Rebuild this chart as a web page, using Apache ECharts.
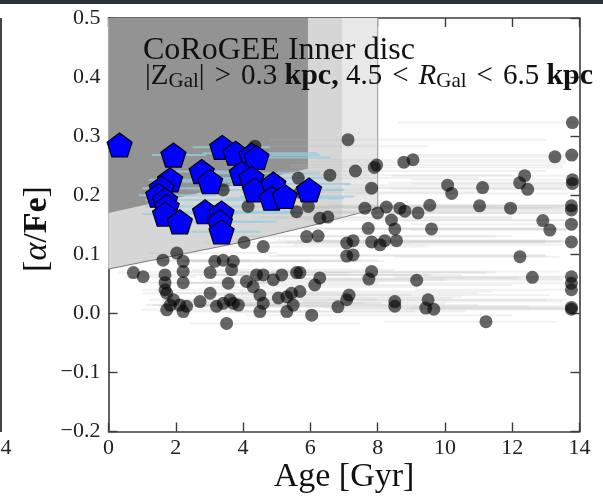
<!DOCTYPE html>
<html><head><meta charset="utf-8">
<script src="https://cdn.jsdelivr.net/npm/echarts@6/dist/echarts.min.js"></script>
<style>html,body{margin:0;padding:0;background:#fff}#c{width:603px;height:496px}</style>
</head><body><div id="c"></div>
<script>
// ---- data ----
const xTicks = [0, 2, 4, 6, 8, 10, 12, 14];
const yTicks = [-0.2, -0.1, 0.0, 0.1, 0.2, 0.3, 0.4, 0.5];
// selection boundary curve (lower edge of shaded zone)
const selCurveAge = [0, 2, 4, 6, 7, 8];
const selCurveAFe = [0.075, 0.098, 0.121, 0.148, 0.163, 0.178];
// lower edge of the dark zone
const darkEdgeAge = [0, 5.93];
const darkEdgeAFe = [0.17, 0.245];
// right edges of dark / medium / light zones
const zoneEdges = [5.93, 6.94, 8.0];
// grey stars: [age, [a/Fe], ageLow, ageHigh]
const greyStars = [
[0.74,0.069,0.3,1.8],[1.03,0.062,0.5,2.6],[1.62,0.090,1.0,4.2],[1.68,0.065,1.0,4.6],
[1.68,0.052,1.1,5.0],[1.68,0.040,1.0,4.1],[1.73,0.034,1.0,4.3],[2.03,0.102,1.2,5.0],
[2.22,0.088,1.4,6.0],[2.22,0.071,1.5,5.5],[2.22,0.052,1.5,5.0],[1.73,0.006,1.0,4.0],
[1.83,0.014,1.1,5.0],[2.12,0.014,1.3,5.5],[2.22,0.003,1.5,6.0],[2.32,0.012,1.5,5.6],
[1.93,0.023,1.2,5.0],[2.72,0.020,1.8,6.5],[3.02,0.034,2.0,7.0],[3.02,0.069,2.0,7.2],
[3.16,0.088,2.2,7.5],[3.41,0.090,2.3,8.0],[3.71,0.088,2.5,8.2],[3.66,0.074,2.5,8.5],
[3.56,0.051,2.4,8.0],[3.21,0.012,2.2,7.0],[3.41,0.017,2.3,7.6],[3.61,0.023,2.5,8.0],
[3.71,0.017,2.5,8.1],[3.86,0.014,2.6,8.5],[3.51,-0.017,2.4,7.5],[4.10,0.054,2.8,9.0],
[4.30,0.045,3.0,9.2],[4.40,0.065,3.0,9.5],[4.60,0.065,3.1,9.6],[4.50,0.031,3.0,9.0],
[4.60,0.017,3.1,10.0],[4.50,0.003,3.0,9.1],[4.90,0.057,3.3,10.0],[5.15,0.065,3.5,10.5],
[5.05,0.026,3.4,10.2],[5.30,0.028,3.6,10.5],[5.44,0.034,3.7,11.0],[5.30,0.003,3.6,10.6],
[5.49,0.014,3.7,11.0],[5.59,0.069,3.8,11.2],[5.69,0.069,3.9,11.5],[5.69,0.037,3.9,11.4],
[6.13,0.048,4.2,12.0],[6.28,0.060,4.3,12.2],[6.04,-0.003,4.1,12.0],[6.82,0.011,4.6,12.5],
[7.08,0.023,4.8,13.0],[7.15,0.031,4.9,13.1],[7.74,0.058,5.3,13.5],[7.82,0.071,5.3,13.4],
[8.51,0.020,5.8,13.5],[8.51,0.012,5.8,13.6],[9.16,0.056,6.3,13.5],[9.50,0.023,6.5,13.6],
[9.43,0.009,6.4,13.5],[9.67,0.007,6.6,13.7],[11.22,-0.014,8.2,13.3],[12.60,0.061,8.5,13.8],
[13.76,0.062,9.0,14.0],[13.76,0.051,9.2,14.0],[13.76,0.040,9.1,14.0],[13.76,0.010,9.0,14.0],
[13.76,0.007,8.8,14.0],[7.08,0.097,4.8,13.0],[12.23,0.096,8.5,13.4],[4.03,0.120,2.8,9.0],
[4.60,0.113,3.1,9.5],[7.08,0.119,4.8,13.0],[7.27,0.099,5.0,13.0],[3.41,0.209,2.3,8.0],
[4.15,0.181,2.8,9.0],[4.35,0.283,3.0,9.5],[5.64,0.229,3.8,11.0],[5.70,0.205,3.9,11.2],
[5.59,0.172,3.8,11.0],[5.94,0.181,4.0,11.5],[6.58,0.234,4.5,12.0],[7.12,0.294,4.8,13.0],
[7.34,0.241,5.0,13.0],[7.97,0.251,5.4,13.5],[7.90,0.247,5.4,13.5],[7.82,0.212,5.3,13.5],
[6.28,0.161,4.3,12.0],[6.52,0.163,4.5,12.0],[5.89,0.130,4.0,11.5],[6.23,0.131,4.2,12.0],
[7.62,0.178,5.2,13.2],[7.72,0.144,5.2,13.3],[7.82,0.121,5.3,13.4],[8.00,0.170,5.4,13.5],
[8.26,0.180,5.6,13.5],[8.66,0.178,5.9,13.6],[8.81,0.173,6.0,13.6],[9.20,0.170,6.3,13.6],
[9.55,0.183,6.5,13.7],[11.03,0.182,7.5,13.8],[11.95,0.178,8.2,13.9],[13.76,0.182,9.0,14.0],
[13.76,0.175,9.0,14.0],[13.76,0.151,9.0,14.0],[12.91,0.157,8.8,13.9],[13.12,0.141,9.0,13.9],
[13.76,0.121,9.0,14.0],[9.60,0.143,6.5,13.7],[8.41,0.158,5.8,13.6],[8.51,0.143,5.8,13.6],
[7.27,0.123,5.0,13.0],[8.21,0.123,5.6,13.5],[8.56,0.123,5.8,13.6],[8.07,0.116,5.5,13.5],
[8.78,0.256,6.0,13.6],[9.05,0.260,6.2,13.6],[13.79,0.323,8.6,14.0],[13.77,0.268,9.0,14.0],
[13.27,0.265,9.0,14.0],[13.79,0.226,9.0,14.0],[13.79,0.220,9.0,14.0],[10.08,0.217,7.0,13.8],
[10.20,0.203,7.0,13.8],[11.12,0.213,7.6,13.8],[12.37,0.233,8.4,13.9],[12.22,0.221,8.3,13.9],
[12.46,0.210,8.4,13.9]
];
// blue (selected) stars: [age, [a/Fe], ageLow, ageHigh]
const blueStars = [
[0.33,0.285,0.2,0.5],[1.93,0.268,1.3,2.9],[3.38,0.281,2.5,4.8],[3.78,0.271,2.8,6.2],
[4.25,0.268,3.2,6.3],[4.40,0.264,3.3,6.6],[2.77,0.240,2.0,4.5],[3.02,0.223,2.2,5.0],
[3.96,0.237,2.9,6.3],[4.25,0.229,3.1,6.5],[4.35,0.209,3.2,7.0],[4.90,0.219,3.6,7.2],
[4.85,0.195,3.5,7.0],[5.24,0.198,3.9,7.3],[5.96,0.209,4.4,6.9],[1.83,0.226,1.2,4.5],
[1.58,0.212,1.0,3.5],[1.48,0.200,0.9,3.2],[1.68,0.192,1.1,4.8],[1.73,0.181,1.1,4.0],
[1.68,0.168,1.0,3.8],[2.12,0.155,1.4,4.6],[2.87,0.172,2.0,5.5],[3.36,0.170,2.3,5.8],
[3.31,0.155,2.3,5.0],[3.36,0.138,2.4,4.5]
];

// ---- chart ----
const SERIF = 'Liberation Serif';
const chart = echarts.init(document.getElementById('c'), null, {renderer: 'canvas'});

function curveAt(a) {
  for (let i = 0; i < selCurveAge.length - 1; i++) {
    if (a >= selCurveAge[i] && a <= selCurveAge[i + 1]) {
      const t = (a - selCurveAge[i]) / (selCurveAge[i + 1] - selCurveAge[i]);
      return selCurveAFe[i] + t * (selCurveAFe[i + 1] - selCurveAFe[i]);
    }
  }
  return selCurveAFe[selCurveAFe.length - 1];
}
function zoneAboveCurve(api, xmax) {
  const top = yTicks[yTicks.length - 1];
  const pts = [[0, top], [xmax, top], [xmax, curveAt(xmax)]];
  for (let i = selCurveAge.length - 1; i >= 0; i--) {
    if (selCurveAge[i] < xmax) pts.push([selCurveAge[i], selCurveAFe[i]]);
  }
  return pts.map(p => api.coord(p));
}
function renderZones(params, api) {
  const top = yTicks[yTicks.length - 1];
  const light = zoneAboveCurve(api, zoneEdges[2]);
  const medium = zoneAboveCurve(api, zoneEdges[1]);
  const dark = [[0, top], [zoneEdges[0], top], [darkEdgeAge[1], darkEdgeAFe[1]], [darkEdgeAge[0], darkEdgeAFe[0]]].map(p => api.coord(p));
  const curvePts = selCurveAge.map((a, i) => api.coord([a, selCurveAFe[i]]));
  const v1 = api.coord([zoneEdges[2], top]);
  const v2 = api.coord([zoneEdges[2], curveAt(zoneEdges[2])]);
  return {
    type: 'group',
    children: [
      {type: 'polygon', shape: {points: light}, style: {fill: '#e8e8e8'}},
      {type: 'polygon', shape: {points: medium}, style: {fill: '#d6d6d6'}},
      {type: 'polygon', shape: {points: dark}, style: {fill: '#939393'}},
      {type: 'polyline', shape: {points: curvePts}, style: {stroke: '#7a7a7a', lineWidth: 1, fill: null}},
      {type: 'line', shape: {x1: v1[0], y1: v1[1], x2: v2[0], y2: v2[1]}, style: {stroke: '#a8a8a8', lineWidth: 1.2}}
    ]
  };
}
function errRender(color, width) {
  return function (params, api) {
    const p1 = api.coord([api.value(0), api.value(2)]);
    const p2 = api.coord([api.value(1), api.value(2)]);
    return {type: 'line', shape: {x1: p1[0], y1: p1[1], x2: p2[0], y2: p2[1]}, style: {stroke: color, lineWidth: width}};
  };
}

const axisLine = {show: true, onZero: false, lineStyle: {color: '#3c3c3c', width: 1.6}};
const axisTick = {show: true, inside: true, length: 9, lineStyle: {color: '#3c3c3c', width: 1.4}};
const pentagon = 'path://M0,-1 L0.9511,-0.309 L0.5878,0.809 L-0.5878,0.809 L-0.9511,-0.309 Z';

const option = {
  animation: false,
  backgroundColor: '#ffffff',
  grid: {left: 108.5, right: 23.5, top: 18, bottom: 64.5, containLabel: false},
  xAxis: [
    {type: 'value', min: xTicks[0], max: xTicks[xTicks.length - 1], interval: 2, position: 'bottom',
     axisLine, axisTick, splitLine: {show: false},
     axisLabel: {show: true, fontFamily: SERIF, fontSize: 22, color: '#222', margin: 6, showMinLabel: true, showMaxLabel: true}},
    {type: 'value', min: xTicks[0], max: xTicks[xTicks.length - 1], interval: 2, position: 'top',
     axisLine, axisTick, splitLine: {show: false}, axisLabel: {show: false}}
  ],
  yAxis: [
    {type: 'value', min: yTicks[0], max: yTicks[yTicks.length - 1], interval: 0.1, position: 'left',
     axisLine, axisTick, splitLine: {show: false},
     axisLabel: {show: true, fontFamily: SERIF, fontSize: 22, color: '#222', margin: 8, showMinLabel: true, showMaxLabel: true,
       formatter: v => (v < -1e-9 ? '\u2212' + Math.abs(v).toFixed(1) : Math.abs(v).toFixed(1))}},
    {type: 'value', min: yTicks[0], max: yTicks[yTicks.length - 1], interval: 0.1, position: 'right',
     axisLine, axisTick, splitLine: {show: false}, axisLabel: {show: false}}
  ],
  series: [
    {type: 'custom', name: 'zones', silent: true, z: 1, renderItem: renderZones, data: [[0, 0]], clip: true},
    {type: 'custom', name: 'greyErr', silent: true, z: 2, clip: true,
     renderItem: errRender('rgba(185,185,185,0.2)', 2),
     encode: {x: [0, 1], y: 2},
     data: greyStars.map(d => [d[2], d[3], d[1]])},
    {type: 'custom', name: 'blueErr', silent: true, z: 3, clip: true,
     renderItem: errRender('rgba(150,205,225,0.75)', 2),
     encode: {x: [0, 1], y: 2},
     data: blueStars.map(d => [d[2], d[3], d[1]])},
    {type: 'scatter', name: 'grey', silent: true, z: 4, symbol: 'circle', symbolSize: 13,
     itemStyle: {color: 'rgba(0,0,0,0.6)', borderWidth: 0, opacity: 1},
     data: greyStars.map(d => [d[0], d[1]])},
    {type: 'scatter', name: 'blue', silent: true, z: 5, symbol: pentagon, symbolSize: [25, 24],
     itemStyle: {color: '#0000ff', borderColor: '#000000', borderWidth: 1.2, opacity: 1},
     data: blueStars.map(d => [d[0], d[1]])}
  ],
  graphic: [
    {type: 'rect', silent: true, z: 100, shape: {x: 0, y: 0, width: 603, height: 4}, style: {fill: '#2b3138'}},
    {type: 'rect', silent: true, z: 100, shape: {x: 0, y: 18, width: 2, height: 414}, style: {fill: '#444'}},
    {type: 'text', silent: true, z: 100, x: 6, y: 448,
     style: {text: '4', font: '22px "Liberation Serif"', fill: '#222', textAlign: 'center', textVerticalAlign: 'middle'}},
    {type: 'text', silent: true, z: 100, x: 143, y: 50.5,
     style: {text: 'CoRoGEE Inner disc', font: '32px "Liberation Serif"', fill: '#111', textAlign: 'left', textVerticalAlign: 'middle'}},
    {type: 'text', silent: true, z: 100, x: 145, y: 76,
     style: {
       text: '{m||Z}{s|Gal}{m||}{r|>}{m|0.3 }{b|kpc,}{m| 4.5}{r|<}{i|R}{s|Gal}{r|<}{m|6.5 }{b|kpc}',
       textAlign: 'left', textVerticalAlign: 'middle', fill: '#111',
       rich: {
         m: {fontFamily: SERIF, fontSize: 29, color: '#111', lineHeight: 31},
         r: {fontFamily: SERIF, fontSize: 29, color: '#111', lineHeight: 31, padding: [0, 10, 0, 10]},
         b: {fontFamily: SERIF, fontSize: 30, fontWeight: 'bold', color: '#111', lineHeight: 31},
         i: {fontFamily: SERIF, fontSize: 29, fontStyle: 'italic', color: '#111', lineHeight: 31},
         s: {fontFamily: SERIF, fontSize: 21, color: '#111', lineHeight: 31, verticalAlign: 'bottom'}
       }
     }},
    {type: 'text', silent: true, z: 100, x: 37, y: 229, rotation: Math.PI / 2,
     style: {
       text: '{a|[}{g|\u03b1}{a|/}{b|Fe}{a|]}',
       textAlign: 'center', textVerticalAlign: 'middle', fill: '#111',
       rich: {
         a: {fontFamily: SERIF, fontSize: 34, color: '#111'},
         g: {fontFamily: SERIF, fontSize: 34, fontStyle: 'italic', color: '#111'},
         b: {fontFamily: SERIF, fontSize: 34, fontWeight: 'bold', color: '#111'}
       }
     }},
    {type: 'text', silent: true, z: 100, x: 344, y: 477,
     style: {text: 'Age [Gyr]', font: '34px "Liberation Serif"', fill: '#111', textAlign: 'center', textVerticalAlign: 'middle'}}
  ]
};
chart.setOption(option);
</script>
</body></html>
